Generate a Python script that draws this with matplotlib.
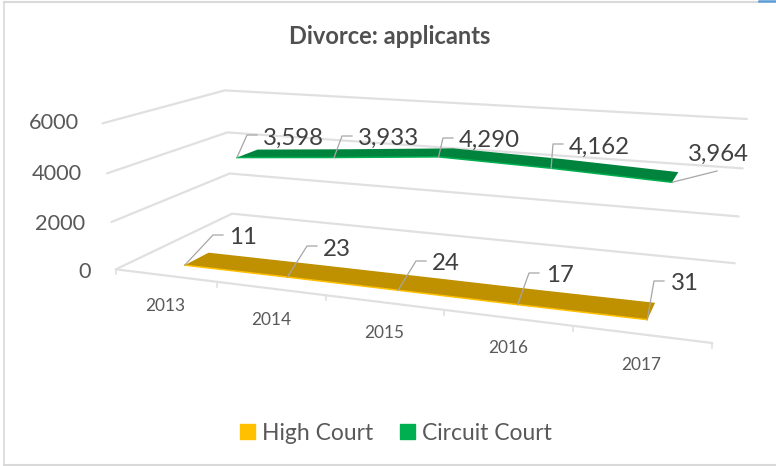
import matplotlib
matplotlib.use('Agg')
import matplotlib.pyplot as plt
from matplotlib.patches import Patch
import numpy as np

plt.rcParams['font.family'] = ['Lato', 'DejaVu Sans']

years = ['2013', '2014', '2015', '2016', '2017']
high_court = [11, 23, 24, 17, 31]
circuit_court = [3598, 3933, 4290, 4162, 3964]
y_ticks = [0, 2000, 4000, 6000]
y_max = 6000

# camera of the 3d box: (x, depth, value) -> picture pixels, fitted on the box corners
box = [
    (0, 0, 0, 116, 270), (0, 1, 0, 233, 213), (1, 1, 0, 735, 263), (1, 0, 0, 712, 343),
    (0, 0, 1/3, 111, 222), (0, 1, 1/3, 229, 174), (1, 1, 1/3, 738, 217),
    (0, 0, 2/3, 107, 173), (0, 1, 2/3, 227, 132), (1, 1, 2/3, 743, 168),
    (0, 0, 1, 103, 123), (0, 1, 1, 225, 91), (1, 1, 1, 747, 119),
]
rows = []
for u, w, v, px, py in box:
    rows.append([u, w, v, 1, 0, 0, 0, 0, -px*u, -px*w, -px*v, -px])
    rows.append([0, 0, 0, 0, u, w, v, 1, -py*u, -py*w, -py*v, -py])
cam = np.linalg.svd(np.array(rows, dtype=float))[2][-1].reshape(3, 4)


def project(u, w, value):
    p = cam @ np.array([u, w, value / y_max, 1.0])
    return p[0] / p[2], p[1] / p[2]


def line3d(ax, pts, **kw):
    xy = np.array([project(*p) for p in pts])
    ax.plot(xy[:, 0], xy[:, 1], solid_capstyle='round', **kw)


fig = plt.figure(figsize=(7.76, 4.66), dpi=100)
ax = fig.add_axes([0, 0, 1, 1])
ax.set_xlim(0, 776)
ax.set_ylim(466, 0)
ax.axis('off')

# outer frame
ax.plot([3.5, 3.5], [2, 464.5], color='#d9d9d9', lw=1.2)
ax.plot([3.5, 759], [1.5, 1.5], color='#d9d9d9', lw=1.5)
ax.plot([3.5, 776], [465, 465], color='#d9d9d9', lw=1.5)
ax.plot([759, 776], [0.7, 0.7], color='#5b9bd5', lw=1.8)

grid = '#e0e0e0'
for t in y_ticks:
    line3d(ax, [(0, 0, t), (0, 1, t), (1, 1, t)], color=grid, lw=1.6, zorder=1)
line3d(ax, [(0, 0, 0), (1, 0, 0)], color=grid, lw=1.6, zorder=1)
for i in range(6):
    x0, y0 = project(i / 5, 0, 0)
    ax.plot([x0, x0], [y0, y0 + 5], color=grid, lw=1.2, zorder=1)

# ribbons
n = len(years)
us = [(i + 0.5) / n for i in range(n)]
series = [
    (high_court, 0.15, 0.35, '#bf9000', '#ffc000'),
    (circuit_court, 0.65, 0.85, '#00843d', '#00b050'),
]
for vals, w0, w1, top, edge in series:
    front = [project(u, w0, v) for u, v in zip(us, vals)]
    back = [project(u, w1, v) for u, v in zip(us, vals)]
    poly = np.array(front + back[::-1])
    ax.fill(poly[:, 0], poly[:, 1], color=top, lw=0, zorder=3)
    ax.plot([p[0] for p in front], [p[1] for p in front], color=edge, lw=1.1, zorder=4)

# data labels: text left edge/centre and leader bend, in pixels
label_pos = [
    [(229, 237), (323, 249), (432, 264), (546, 275), (671, 283)],
    [(263, 138), (358, 138), (459, 140), (569, 147), (688, 154)],
]
bends = [
    [(213, 235), (307, 246), (416, 261), (529, 273), (654, 281)],
    [(247, 135), (342, 136), (443, 138), (553, 144), None],
]
for s, (vals, w0, w1, top, edge) in enumerate(series):
    for i, v in enumerate(vals):
        ax0, ay0 = project(us[i], w0, v)
        tx, ty = label_pos[s][i]
        bend = bends[s][i]
        if bend is None:
            xs, ys = [ax0, 717], [ay0, 171]
        else:
            xs, ys = [ax0, bend[0], bend[0] + 10], [ay0, bend[1], bend[1]]
        ax.plot(xs, ys, color='#a6a6a6', lw=0.9, zorder=5)
        ax.text(tx, ty, f'{v:,}', ha='left', va='center', fontsize=17.3, color='#404040', zorder=6)

# y labels
y_lab_x = [91, 85, 82, 79]
y_lab_y = [272, 224, 174, 123]
for t, x, y in zip(y_ticks, y_lab_x, y_lab_y):
    ax.text(x, y, str(t), ha='right', va='center', fontsize=15.7, color='#595959')

# category labels
cat_x = [165, 271, 384, 508, 641]
cat_y = [306, 320, 333, 348, 365]
for lab, x, y in zip(years, cat_x, cat_y):
    ax.text(x, y, lab, ha='center', va='center', fontsize=12.4, color='#595959')

ax.text(390, 36, 'Divorce: applicants', ha='center', va='center', fontsize=17,
        fontweight='bold', color='#505050')

handles = [Patch(color='#ffc000', label='High Court'), Patch(color='#00b050', label='Circuit Court')]
ax.legend(handles=handles, loc='center', bbox_to_anchor=(396 / 776, 1 - 433 / 466), ncol=2, frameon=False,
          fontsize=16.5, labelcolor='#595959', handlelength=0.63, handleheight=0.63,
          handletextpad=0.3, columnspacing=1.2)

fig.savefig('out.png', dpi=100)
